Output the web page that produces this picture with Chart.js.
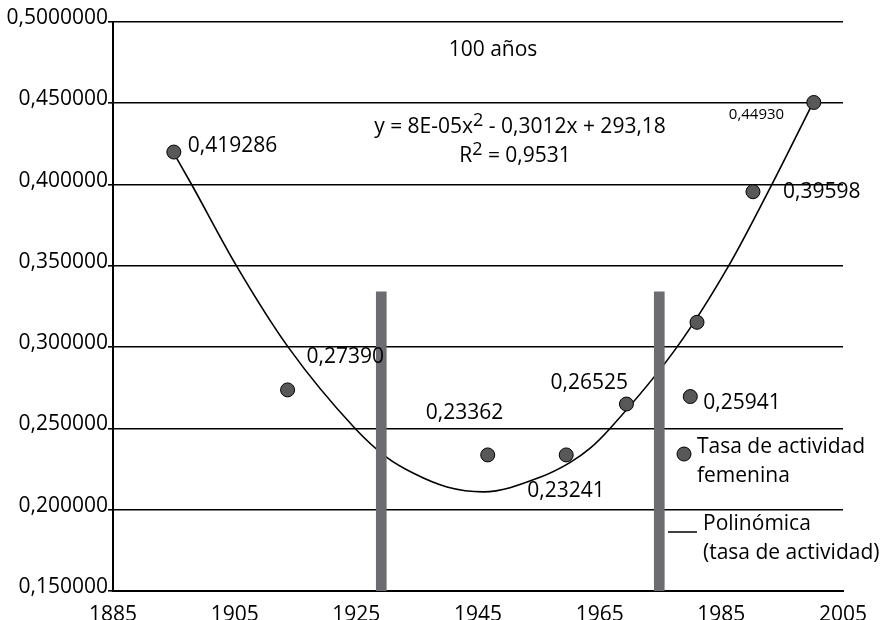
<!DOCTYPE html>
<html>
<head>
<meta charset="utf-8">
<script src="https://cdn.jsdelivr.net/npm/chart.js@4.4.1/dist/chart.umd.min.js"></script>
<style>
  html, body { margin: 0; padding: 0; background: #fff; }
  #wrap { width: 894px; height: 620px; }
</style>
</head>
<body>
<div id="wrap"><canvas id="chart" width="894" height="620"></canvas></div>
<script>
// Data
const years = [1895.0, 1913.7, 1946.6, 1959.5, 1969.4, 1979.9, 1981.0, 1990.2, 2000.2]
const rates = [0.4200, 0.2737, 0.2337, 0.2337, 0.2650, 0.2696, 0.3153, 0.3956, 0.4505]
const pointLabels = ["0,419286", "0,27390", "0,23362", "0,23241", "0,26525", "0,25941", "", "0,39598", "0,44930"]

// trend curve
const curveYears = [1894.9, 1897.9, 1905.3, 1913.8, 1924.8, 1930.0, 1934.4, 1939.9, 1945.9, 1955.2, 1960.1, 1963.4, 1966.7, 1977.7, 1986.2, 1993.3, 2000.1]
const curveRates = [0.4199, 0.4002, 0.3500, 0.3000, 0.2500, 0.2322, 0.2224, 0.2140, 0.2110, 0.2200, 0.2290, 0.2377, 0.2500, 0.3000, 0.3500, 0.4000, 0.4506]

// the two grey vertical bars
const barYears = [1929.1, 1974.8]
const barLow = [0.15, 0.15]
const barHigh = [0.334, 0.334]

const xTicks = [1885, 1905, 1925, 1945, 1965, 1985, 2005]
const yTickLabels = ["0,150000", "0,200000", "0,250000", "0,300000", "0,350000", "0,400000", "0,450000", "0,5000000"]

const FONT = '"Open Sans", "Liberation Sans", sans-serif'
const SIZE = 21
const DOT_FILL = "#58585a"
const BAR_GREY = "#6d6d71"

// where each point label sits relative to its dot
const labelOffsets = [
  { dx: 14, dy: -6 }, { dx: 19, dy: -33 }, { dx: -62, dy: -42 }, { dx: -39, dy: 36 },
  { dx: -76, dy: -21 }, { dx: 13, dy: 6 }, null, { dx: 30, dy: 0 }, { dx: -85, dy: 12, small: true }
]

function drawRich(ctx, parts, cx, baseline, size) {
  // measure first so the whole line can be centred
  let total = 0
  parts.forEach(p => {
    ctx.font = (p.sup ? Math.round(size * 0.85) : size) + "px " + FONT
    p.w = ctx.measureText(p.t).width
    total += p.w
  })
  let x = cx - total / 2
  ctx.textAlign = "left"
  ctx.textBaseline = "alphabetic"
  parts.forEach(p => {
    ctx.font = (p.sup ? Math.round(size * 0.85) : size) + "px " + FONT
    ctx.fillText(p.t, x, p.sup ? baseline - 7 : baseline)
    x += p.w
  })
}

const notes = {
  id: "notes",
  afterDatasetsDraw(chart) {
    const ctx = chart.ctx
    ctx.save()
    ctx.fillStyle = "#000"
    ctx.textBaseline = "middle"
    ctx.textAlign = "left"

    chart.getDatasetMeta(1).data.forEach((pt, i) => {
      const o = labelOffsets[i]
      if (!o || !pointLabels[i]) return
      ctx.font = (o.small ? "15px " : SIZE + "px ") + FONT
      ctx.fillText(pointLabels[i], pt.x + o.dx, pt.y + o.dy)
    })

    ctx.font = SIZE + "px " + FONT
    ctx.textAlign = "center"
    ctx.fillText("100 años", 493, 50)

    drawRich(ctx, [{ t: "y = 8E-05x" }, { t: "2", sup: true }, { t: " - 0,3012x + 293,18" }], 520, 133, SIZE)
    drawRich(ctx, [{ t: "R" }, { t: "2", sup: true }, { t: " = 0,9531" }], 515, 162, SIZE)

    // legend
    ctx.beginPath()
    ctx.arc(684, 454, 7, 0, Math.PI * 2)
    ctx.fillStyle = DOT_FILL
    ctx.fill()
    ctx.lineWidth = 1
    ctx.strokeStyle = "#000"
    ctx.stroke()

    ctx.beginPath()
    ctx.moveTo(668, 532)
    ctx.lineTo(697, 532)
    ctx.lineWidth = 1.5
    ctx.stroke()

    ctx.fillStyle = "#000"
    ctx.font = SIZE + "px " + FONT
    ctx.textAlign = "left"
    ctx.textBaseline = "middle"
    ctx.fillText("Tasa de actividad", 697, 447)
    ctx.fillText("femenina", 697, 476)
    ctx.fillText("Polinómica", 703, 524)
    ctx.fillText("(tasa de actividad)", 703, 553)
    ctx.restore()
  }
}

new Chart(document.getElementById("chart"), {
  data: {
    datasets: [
      {
        type: "bar",
        data: barYears.map((x, i) => ({ x, y: [barLow[i], barHigh[i]] })),
        backgroundColor: BAR_GREY,
        barThickness: 10,
        order: 0
      },
      {
        type: "line",
        data: years.map((x, i) => ({ x, y: rates[i] })),
        showLine: false,
        pointRadius: 7,
        pointBackgroundColor: DOT_FILL,
        pointBorderColor: "#000",
        pointBorderWidth: 1,
        order: 1
      },
      {
        type: "line",
        data: curveYears.map((x, i) => ({ x, y: curveRates[i] })),
        borderColor: "#000",
        borderWidth: 1.6,
        pointRadius: 0,
        cubicInterpolationMode: "monotone",
        order: 2
      }
    ]
  },
  options: {
    responsive: false,
    animation: false,
    layout: { padding: { top: 22, right: 51, left: 0, bottom: 0 } },
    plugins: { legend: { display: false }, tooltip: { enabled: false } },
    scales: {
      x: {
        type: "linear",
        min: 1885,
        max: 2005,
        offset: false,
        afterBuildTicks: s => { s.ticks = xTicks.map(v => ({ value: v })) },
        afterFit: s => { s.height = 29 },
        grid: { display: false },
        border: { display: true, color: "#000", width: 2 },
        ticks: { color: "#000", font: { family: FONT, size: SIZE }, padding: 3, maxRotation: 0, callback: v => String(v) }
      },
      y: {
        min: 0.15,
        max: 0.5,
        afterFit: s => { s.width = 113 },
        grid: { color: "#000", lineWidth: 1.6, tickLength: 5 },
        border: { display: true, color: "#000", width: 2 },
        ticks: {
          stepSize: 0.05,
          color: "#000",
          padding: 0,
          labelOffset: -4,
          font: { family: FONT, size: SIZE },
          callback: (v, i) => yTickLabels[i]
        }
      }
    }
  },
  plugins: [notes]
})
</script>
</body>
</html>
